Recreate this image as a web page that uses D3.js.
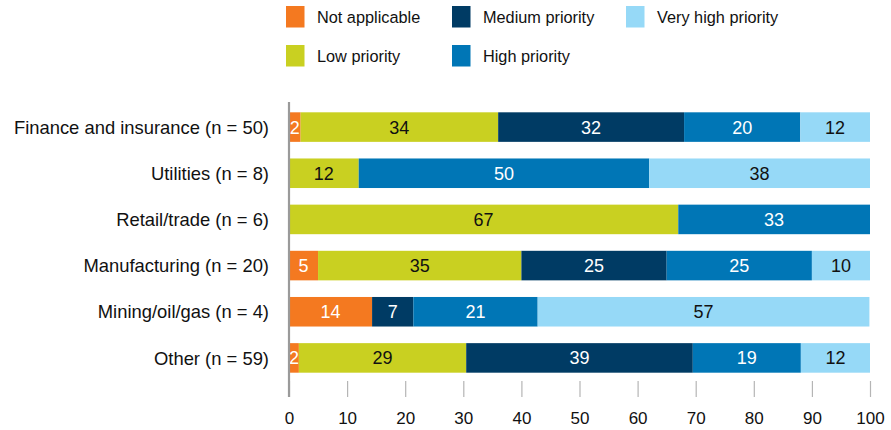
<!DOCTYPE html>
<html>
<head>
<meta charset="utf-8">
<script src="https://cdn.jsdelivr.net/npm/d3@7"></script>
<style>
  body { margin: 0; background: #fff; }
  svg { font-family: "Liberation Sans", Arial, Helvetica, sans-serif; }
</style>
</head>
<body>
<div id="chart"></div>
<script>
// categories, top to bottom
var categories = ["Finance and insurance (n = 50)", "Utilities (n = 8)", "Retail/trade (n = 6)",
    "Manufacturing (n = 20)", "Mining/oil/gas (n = 4)", "Other (n = 59)"];
// series values (percent), same order as categories
var notApplicable = [2, 0, 0, 5, 14.3, 1.7];
var lowPriority = [34, 12, 67, 35, 0, 28.8];
var mediumPriority = [32, 0, 0, 25, 7.1, 39.0];
var highPriority = [20, 50, 33, 25, 21.4, 18.6];
var veryHighPriority = [12, 38, 0, 10, 57.1, 11.9];
var seriesNames = ["Not applicable", "Low priority", "Medium priority", "High priority", "Very high priority"];
var xTicks = [0, 10, 20, 30, 40, 50, 60, 70, 80, 90, 100];

var colors = ["#F47920", "#C9D021", "#003B64", "#0076B6", "#96D9F7"];
var labelColors = ["#fff", "#111", "#fff", "#fff", "#111"];

var width = 891, height = 430;
var svg = d3.select("#chart").append("svg").attr("width", width).attr("height", height);

var rows = categories.map(function(c, i) {
    return { cat: c, values: [notApplicable[i], lowPriority[i], mediumPriority[i], highPriority[i], veryHighPriority[i]] };
});

var x = d3.scaleLinear().domain([0, 100]).range([289, 870]);
var y = d3.scaleBand().domain(categories).range([104, 381]).paddingInner(0.36).paddingOuter(0.18);

// bars
rows.forEach(function(r) {
    var acc = 0;
    var g = svg.append("g");
    r.values.forEach(function(v, k) {
        var x0 = acc;
        acc += v;
        if (v <= 0) return;
        g.append("rect")
            .attr("x", x(x0)).attr("y", y(r.cat))
            .attr("width", x(acc) - x(x0)).attr("height", y.bandwidth())
            .attr("fill", colors[k]);
        g.append("text")
            .attr("x", (x(x0) + x(acc)) / 2)
            .attr("y", y(r.cat) + y.bandwidth() / 2)
            .attr("dy", "0.36em")
            .attr("text-anchor", "middle")
            .attr("font-size", "18px")
            .attr("fill", labelColors[k])
            .text(Math.round(v));
    });
});

// category labels
svg.selectAll(".cat").data(categories).enter().append("text")
    .attr("class", "cat")
    .attr("x", 269)
    .attr("y", function(d) { return y(d) + y.bandwidth() / 2; })
    .attr("dy", "0.36em")
    .attr("text-anchor", "end")
    .attr("font-size", "18.4px")
    .attr("fill", "#111")
    .text(function(d) { return d; });

// x axis
var xAxis = svg.append("g").attr("transform", "translate(0,397)")
    .call(d3.axisBottom(x).tickValues(xTicks).tickSize(-16).tickPadding(0).tickFormat(d3.format("d")));
xAxis.select(".domain").remove();
xAxis.selectAll(".tick line").attr("stroke", "#b5b5b5").attr("stroke-width", 1.2);
xAxis.selectAll(".tick text").attr("font-size", "17px").attr("fill", "#111")
    .attr("font-family", "Liberation Sans, Arial, sans-serif").attr("y", 21).attr("dy", "0.36em");

// vertical axis line
svg.append("line").attr("x1", x(0)).attr("x2", x(0)).attr("y1", 102).attr("y2", 397)
    .attr("stroke", "#9a9a9a").attr("stroke-width", 2.2);

// legend
var legendPos = [[286, 6], [286, 45], [452, 6], [452, 45], [626, 6]];
seriesNames.forEach(function(name, k) {
    var p = legendPos[k];
    svg.append("rect").attr("x", p[0]).attr("y", p[1]).attr("width", 18.5).attr("height", 21.5).attr("fill", colors[k]);
    svg.append("text").attr("x", p[0] + 31).attr("y", p[1] + 11).attr("dy", "0.36em")
        .attr("font-size", "16.3px").attr("fill", "#111").text(name);
});
</script>
</body>
</html>
